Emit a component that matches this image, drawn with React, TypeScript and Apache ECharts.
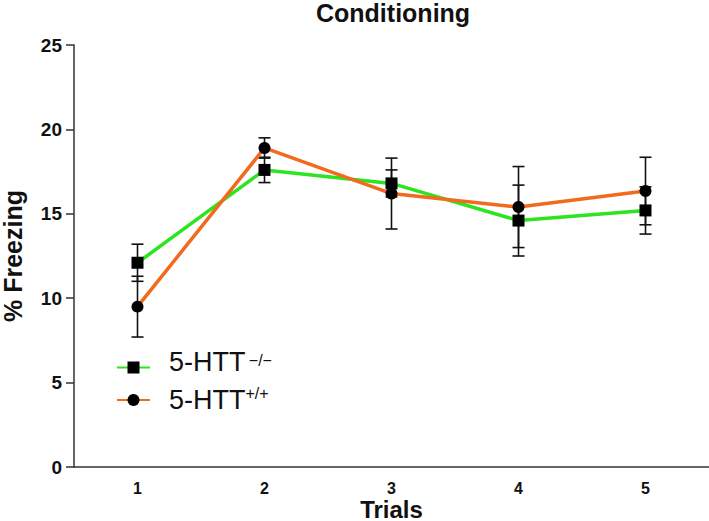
import React, { useRef, useEffect } from 'react'
import * as echarts from 'echarts'

const trials = ['1', '2', '3', '4', '5']
// 5-HTT -/- (squares, green)
const koMean = [12.1, 17.6, 16.8, 14.6, 15.2]
const koSem = [1.1, 0.75, 0.8, 2.1, 1.4]
// 5-HTT +/+ (circles, orange)
const wtMean = [9.5, 18.9, 16.2, 15.4, 16.35]
const wtSem = [1.8, 0.6, 2.1, 2.4, 2.0]

const FONT = 'Liberation Sans, Arial, Helvetica, sans-serif'
const GREEN = '#2ae51f'
const ORANGE = '#f26a1e'

function errorSeries(mean: number[], sem: number[]) {
  return {
    type: 'custom',
    z: 3,
    encode: { x: 0, y: [1, 2] },
    data: mean.map((m, i) => [i, m - sem[i], m + sem[i]]),
    renderItem: (params: any, api: any) => {
      const i = api.value(0)
      const top = api.coord([i, api.value(2)])
      const bot = api.coord([i, api.value(1)])
      const w = 6
      const style = { stroke: '#111', lineWidth: 1.6 }
      return {
        type: 'group',
        children: [
          { type: 'line', shape: { x1: top[0], y1: top[1], x2: bot[0], y2: bot[1] }, style },
          { type: 'line', shape: { x1: top[0] - w, y1: top[1], x2: top[0] + w, y2: top[1] }, style },
          { type: 'line', shape: { x1: bot[0] - w, y1: bot[1], x2: bot[0] + w, y2: bot[1] }, style },
        ],
      }
    },
  }
}

function legendRich(bottomPad: number) {
  return {
    a: { fontSize: 27, lineHeight: 30, padding: [0, 0, bottomPad, 14], fontFamily: FONT, color: '#111' },
    s: { fontSize: 16, lineHeight: 30, verticalAlign: 'top', fontFamily: FONT, color: '#111' },
  }
}

function FreezingChart() {
  const chartRef = useRef(null)

  useEffect(() => {
    const chart = echarts.init(chartRef.current, null, { renderer: 'svg' })

    const option = {
      animation: false,
      textStyle: { fontFamily: FONT },
      title: {
        text: 'Conditioning',
        left: 316,
        top: 0,
        padding: 0,
        textStyle: { fontFamily: FONT, fontSize: 25, fontWeight: 'bold', color: '#111' },
      },
      grid: { left: 74, right: 0, top: 45, bottom: 54, outerBoundsMode: 'none' },
      legend: {
        orient: 'vertical',
        left: 116,
        top: 348,
        padding: 0,
        itemWidth: 33,
        itemHeight: 15,
        itemGap: -2,
        data: [
          { name: 'KO', textStyle: { fontFamily: FONT, color: '#111', rich: legendRich(12) } },
          { name: 'WT', textStyle: { fontFamily: FONT, color: '#111', rich: legendRich(0) } },
        ],
        formatter: (name: string) =>
          name === 'KO' ? '{a|5-HTT} {s|\u2212/\u2212}' : '{a|5-HTT}{s|+/+}',
        textStyle: { fontFamily: FONT, color: '#111', rich: legendRich(0) },
      },
      xAxis: {
        type: 'category',
        data: trials,
        boundaryGap: true,
        name: 'Trials',
        nameLocation: 'middle',
        nameGap: 31,
        nameMoveOverlap: false,
        nameTextStyle: { fontFamily: FONT, fontSize: 24, lineHeight: 22, fontWeight: 'bold', color: '#111' },
        axisLine: { lineStyle: { color: '#333', width: 1.5 } },
        axisTick: { alignWithLabel: true, length: 8, lineStyle: { color: '#333', width: 1.5 } },
        axisLabel: { fontFamily: FONT, fontSize: 16, fontWeight: 'bold', color: '#111', margin: 13 },
      },
      yAxis: {
        type: 'value',
        min: 0,
        max: 25,
        interval: 5,
        name: '% Freezing',
        nameLocation: 'middle',
        nameRotate: 90,
        nameGap: 49,
        nameMoveOverlap: false,
        nameTextStyle: { fontFamily: FONT, fontSize: 25, fontWeight: 'bold', color: '#111' },
        splitLine: { show: false },
        axisLine: { show: true, lineStyle: { color: '#333', width: 1.5 } },
        axisTick: { show: true, length: 8, lineStyle: { color: '#333', width: 1.5 } },
        axisLabel: { fontFamily: FONT, fontSize: 19, fontWeight: 'bold', color: '#111', margin: 12 },
      },
      series: [
        errorSeries(koMean, koSem),
        errorSeries(wtMean, wtSem),
        {
          name: 'KO',
          type: 'line',
          data: koMean,
          symbol: 'rect',
          symbolSize: 12,
          z: 4,
          itemStyle: { color: '#000' },
          lineStyle: { color: GREEN, width: 3.5 },
        },
        {
          name: 'WT',
          type: 'line',
          data: wtMean,
          symbol: 'circle',
          symbolSize: 12,
          z: 5,
          itemStyle: { color: '#000' },
          lineStyle: { color: ORANGE, width: 3.5 },
        },
      ],
    }

    chart.setOption(option)

    return () => {
      chart.dispose()
    }
  }, [])

  return (
    <div
      ref={chartRef}
      style={{ position: 'absolute', left: 0, top: 0, width: 709, height: 521 }}
    ></div>
  )
}

export default function App() {
  return <FreezingChart />
}
